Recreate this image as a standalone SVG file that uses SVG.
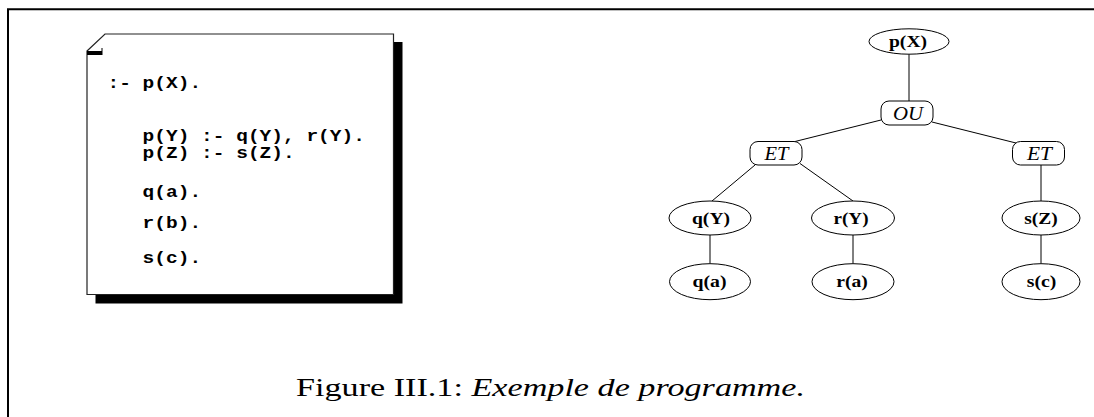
<svg xmlns="http://www.w3.org/2000/svg" width="1094" height="417" viewBox="0 0 1094 417">
<style>
.frame{fill:none;stroke:#000;stroke-width:2}
.page{fill:#fff;stroke:#222;stroke-width:1.2}
.code{font-family:"Liberation Mono","Courier New",monospace;font-weight:bold;font-size:17px;fill:#000}
.node{fill:#fff;stroke:#000;stroke-width:1}
.lbl{font-family:"Liberation Serif","Times New Roman",serif;font-weight:bold;font-size:16px;text-anchor:middle;fill:#000}
.op{font-family:"Liberation Serif","Times New Roman",serif;font-style:italic;font-size:18px;text-anchor:middle;fill:#000}
.edge{stroke:#000;stroke-width:1;fill:none}
.cap{font-family:"Liberation Serif","Times New Roman",serif;font-size:25px;fill:#000}
</style>
<rect width="1094" height="417" fill="#fff"/>
<path class="frame" d="M8 417 V9.2 H1094"/>

<g id="program">
  <path d="M95.5 59.5 L113.5 42 H402.5 V303.5 H95.5 Z" fill="#000"/>
  <path class="page" d="M87 51 L105 34 H393.5 V294.5 H87 Z"/>
  <rect x="87" y="51" width="15" height="4" fill="#000"/>
  <line x1="102" y1="48" x2="102" y2="55" stroke="#000" stroke-width="1"/>
  <text class="code" x="107.5" y="88" textLength="93.6" lengthAdjust="spacingAndGlyphs">:- p(X).</text>
  <text class="code" x="142.6" y="140.5" textLength="222.3" lengthAdjust="spacingAndGlyphs">p(Y) :- q(Y), r(Y).</text>
  <text class="code" x="142.6" y="158" textLength="152.1" lengthAdjust="spacingAndGlyphs">p(Z) :- s(Z).</text>
  <text class="code" x="142.6" y="196.5" textLength="58.5" lengthAdjust="spacingAndGlyphs">q(a).</text>
  <text class="code" x="142.6" y="228" textLength="58.5" lengthAdjust="spacingAndGlyphs">r(b).</text>
  <text class="code" x="142.6" y="262.5" textLength="58.5" lengthAdjust="spacingAndGlyphs">s(c).</text>
</g>

<g id="connectors">
  <line class="edge" x1="909" y1="54.2" x2="909" y2="101"/>
  <line class="edge" x1="881" y1="120" x2="795" y2="141.5"/>
  <line class="edge" x1="932" y1="122" x2="1016" y2="143"/>
  <line class="edge" x1="755" y1="165" x2="712" y2="201"/>
  <line class="edge" x1="800" y1="163.5" x2="853" y2="201"/>
  <line class="edge" x1="1041" y1="165" x2="1041" y2="201"/>
  <line class="edge" x1="710" y1="235" x2="710" y2="263.4"/>
  <line class="edge" x1="853" y1="235" x2="853" y2="263.4"/>
  <line class="edge" x1="1041" y1="235" x2="1041" y2="263.4"/>
</g>

<g id="n-pX"><ellipse class="node" cx="909" cy="41.5" rx="40" ry="12.7"/><text class="lbl" x="908" y="46.5" textLength="38" lengthAdjust="spacingAndGlyphs">p(X)</text></g>
<g id="n-OU"><rect class="node" x="881" y="101" width="52" height="24" rx="8"/><text class="op" x="908" y="119.5" textLength="30" lengthAdjust="spacingAndGlyphs">OU</text></g>
<g id="n-ET1"><rect class="node" x="750" y="141.5" width="52" height="23.5" rx="8"/><text class="op" x="776.5" y="159.8" textLength="24" lengthAdjust="spacingAndGlyphs">ET</text></g>
<g id="n-ET2"><rect class="node" x="1012.5" y="141.5" width="52" height="23.5" rx="8"/><text class="op" x="1039.5" y="159.8" textLength="25" lengthAdjust="spacingAndGlyphs">ET</text></g>
<g id="n-qY"><ellipse class="node" cx="710" cy="218" rx="41" ry="17"/><text class="lbl" x="711" y="223.5" textLength="38" lengthAdjust="spacingAndGlyphs">q(Y)</text></g>
<g id="n-rY"><ellipse class="node" cx="853" cy="218" rx="41.5" ry="17"/><text class="lbl" x="851" y="223.5" textLength="35" lengthAdjust="spacingAndGlyphs">r(Y)</text></g>
<g id="n-sZ"><ellipse class="node" cx="1041" cy="218" rx="39" ry="17"/><text class="lbl" x="1041" y="223.5" textLength="33.5" lengthAdjust="spacingAndGlyphs">s(Z)</text></g>
<g id="n-qa"><ellipse class="node" cx="710" cy="281.7" rx="40.5" ry="18"/><text class="lbl" x="709.5" y="287" textLength="34" lengthAdjust="spacingAndGlyphs">q(a)</text></g>
<g id="n-ra"><ellipse class="node" cx="853" cy="281.7" rx="41" ry="18"/><text class="lbl" x="852" y="287" textLength="31.5" lengthAdjust="spacingAndGlyphs">r(a)</text></g>
<g id="n-sc"><ellipse class="node" cx="1041" cy="281.7" rx="39" ry="18"/><text class="lbl" x="1041.5" y="287" textLength="29.5" lengthAdjust="spacingAndGlyphs">s(c)</text></g>

<text class="cap" x="296" y="396" textLength="509" lengthAdjust="spacingAndGlyphs">Figure III.1: <tspan font-style="italic">Exemple de programme.</tspan></text>
</svg>
